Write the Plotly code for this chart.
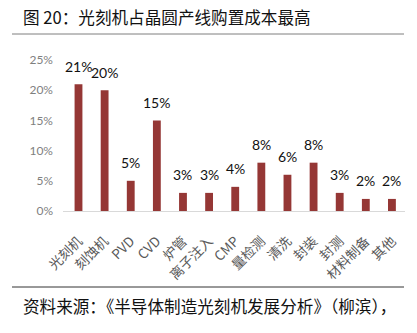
import plotly.graph_objects as go

categories = ["光刻机", "刻蚀机", "PVD", "CVD", "炉管", "离子注入", "CMP", "量检测", "清洗", "封装", "封测", "材料制备", "其他"]
values = [21, 20, 5, 15, 3, 3, 4, 8, 6, 8, 3, 2, 2]
ytick_vals = [0, 5, 10, 15, 20, 25]
ytick_text = ["0%", "5%", "10%", "15%", "20%", "25%"]
title_text = "图 20：光刻机占晶圆产线购置成本最高"
source_text = "资料来源：《半导体制造光刻机发展分析》（柳滨），"

W, H = 417, 333
L, R, T, B = 63, 12, 60, 122
pw = W - L - R
ph = H - T - B

def px_x(p):
    return (p - L) / pw

def px_y(p):
    return (H - B - p) / ph

fig = go.Figure()
fig.add_trace(go.Bar(x=categories, y=values, marker=dict(color="#953735", line=dict(width=0))))

annotations = []
for c, v in zip(categories, values):
    annotations.append(dict(x=c, y=v, xref="x", yref="y", text=f"{v}%", showarrow=False,
                            yanchor="middle", yshift=18,
                            font=dict(family="Lato, Noto Sans CJK SC", size=14, color="#111111")))
annotations.append(dict(x=px_x(21), y=px_y(17), xref="paper", yref="paper", text=title_text,
                        showarrow=False, xanchor="left", yanchor="middle",
                        font=dict(family="Noto Sans CJK SC", size=16.6, color="#111111")))
annotations.append(dict(x=px_x(21), y=px_y(306), xref="paper", yref="paper", text=source_text,
                        showarrow=False, xanchor="left", yanchor="middle",
                        font=dict(family="Noto Sans CJK SC", size=16.6, color="#111111")))

shapes = [
    dict(type="line", xref="paper", yref="paper", x0=px_x(12), x1=px_x(404), y0=px_y(34), y1=px_y(34),
         line=dict(color="#7f7f7f", width=1)),
    dict(type="line", xref="paper", yref="paper", x0=px_x(12), x1=px_x(404), y0=px_y(287), y1=px_y(287),
         line=dict(color="#333333", width=1)),
]

fig.update_layout(
    width=W, height=H,
    margin=dict(l=L, r=R, t=T, b=B, pad=0),
    paper_bgcolor="white", plot_bgcolor="white",
    showlegend=False,
    bargap=0.7,
    annotations=annotations,
    shapes=shapes,
    xaxis=dict(tickangle=-45, tickfont=dict(family="Noto Sans CJK SC", size=13.5, color="#595959"),
               showline=True, linecolor="#d9d9d9", linewidth=1, ticks="", showgrid=False,
               ticklabelstandoff=16),
    yaxis=dict(range=[0, 25], tickvals=ytick_vals, ticktext=ytick_text,
               tickfont=dict(family="Lato, Noto Sans", size=12, color="#7f7f7f"),
               showgrid=False, zeroline=False, showline=False, ticks="", ticklabelstandoff=9),
)

fig.write_html("out.html")
